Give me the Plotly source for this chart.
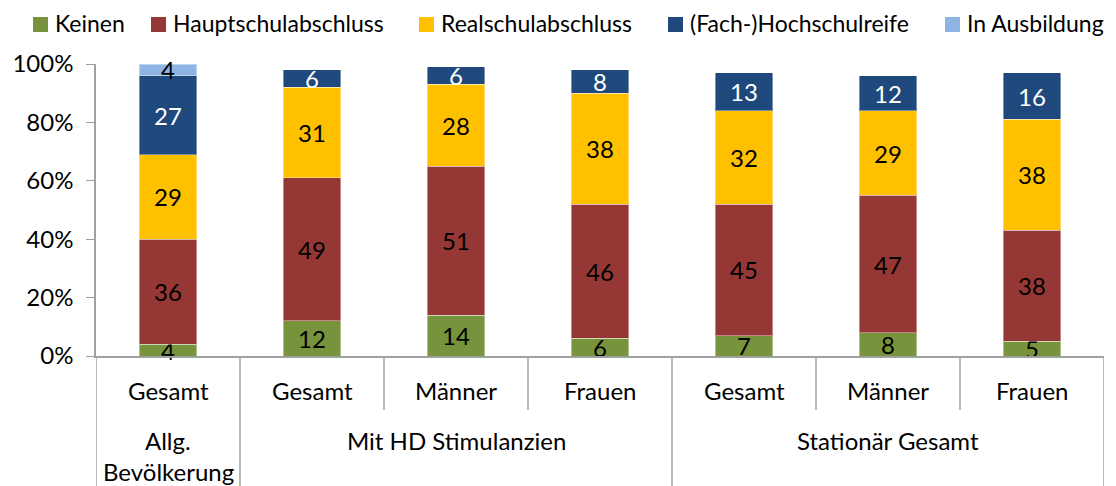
import plotly.graph_objects as go

level1 = ["Gesamt", "Gesamt", "Männer", "Frauen", "Gesamt", "Männer", "Frauen"]
groups = ["Allg.", "Mit HD Stimulanzien", "Stationär Gesamt"]
group_extra = ["Bevölkerung", "", ""]
group_spans = [(0, 0), (1, 3), (4, 6)]

series_names = ["Keinen", "Hauptschulabschluss", "Realschulabschluss", "(Fach-)Hochschulreife", "In Ausbildung"]
keinen = [4, 12, 14, 6, 7, 8, 5]
haupt = [36, 49, 51, 46, 45, 47, 38]
real = [29, 31, 28, 38, 32, 29, 38]
hoch = [27, 6, 6, 8, 13, 12, 16]
ausb = [4, None, None, None, None, None, None]
series_values = [keinen, haupt, real, hoch, ausb]
colors = ["#77933C", "#953735", "#FFC000", "#1F497D", "#8EB4E3"]
text_colors = ["black", "black", "black", "white", "black"]
y_ticks = [0, 20, 40, 60, 80, 100]

FONT = "Lato"
FS = 24
x = list(range(len(level1)))

# page has an 8px body margin; figure coordinates are page pixels minus 8
OFF = 8
W, H = 1116 - OFF, 486 - OFF
ml = 96 - OFF
mt = 64 - OFF
plot_bottom = 356 - OFF
plot_right = 1104 - OFF
mr = W - plot_right
mb = H - plot_bottom
pw = W - ml - mr
ph = H - mt - mb


def px2paper_x(px):
    # px in page pixels
    return (px - OFF - ml) / pw


def px2paper_y(py):
    return (plot_bottom - (py - OFF)) / ph


fig = go.Figure()
for name, vals, col, tc in zip(series_names, series_values, colors, text_colors):
    fig.add_trace(go.Bar(
        x=x, y=vals, name=name,
        marker=dict(color=col, line=dict(color="rgba(255,255,255,0.4)", width=1)),
        text=[("" if v is None else str(v)) for v in vals],
        textposition="inside", insidetextanchor="middle",
        constraintext="none", textangle=0,
        textfont=dict(family=FONT, size=FS, color=tc),
        width=0.4, cliponaxis=False, showlegend=False,
    ))

fig.update_layout(
    width=W, height=H, barmode="stack",
    margin=dict(l=ml, r=mr, t=mt, b=mb, autoexpand=False),
    plot_bgcolor="white", paper_bgcolor="white",
    font=dict(family=FONT, size=FS, color="black"),
    showlegend=False,
    xaxis=dict(range=[-0.5, 6.5], showticklabels=False, ticks="", showgrid=False,
               showline=True, linecolor="#A0A0A0", linewidth=1.5, zeroline=False, fixedrange=True),
    yaxis=dict(range=[0, 100], tickmode="array", tickvals=y_ticks,
               ticktext=[f"{v}%" for v in y_ticks],
               showgrid=False, showline=True, linecolor="#A0A0A0", linewidth=1.5,
               ticks="outside", ticklen=8, tickcolor="#A0A0A0", zeroline=False,
               ticklabelstandoff=8,
               tickfont=dict(family=FONT, size=FS), fixedrange=True),
)

# manual legend (page pixel positions)
legend_sq_x = [33, 151, 419, 668, 945]
sq = 15
sq_top = 17
for name, col, sx in zip(series_names, colors, legend_sq_x):
    fig.add_shape(type="rect", xref="paper", yref="paper",
                  x0=px2paper_x(sx), x1=px2paper_x(sx + sq),
                  y0=px2paper_y(sq_top), y1=px2paper_y(sq_top + sq),
                  fillcolor=col, line=dict(width=0))
    fig.add_annotation(xref="paper", yref="paper", x=px2paper_x(sx + sq + 5),
                       y=px2paper_y(sq_top + sq / 2 - 1), text=name, showarrow=False,
                       xanchor="left", yanchor="middle", font=dict(family=FONT, size=23))

# level-1 labels
for i, lab in enumerate(level1):
    fig.add_annotation(x=i, y=0, xref="x", yref="paper", text=lab, showarrow=False,
                       yshift=-34, yanchor="middle", font=dict(family=FONT, size=FS))
# group labels
for g, extra, (a, b) in zip(groups, group_extra, group_spans):
    fig.add_annotation(x=(a + b) / 2, y=0, xref="x", yref="paper", text=g, showarrow=False,
                       yshift=-84, yanchor="middle", font=dict(family=FONT, size=FS))
    if extra:
        fig.add_annotation(x=(a + b) / 2, y=0, xref="x", yref="paper", text=extra, showarrow=False,
                           yshift=-115, yanchor="middle", font=dict(family=FONT, size=FS))

# dividers
short = -54 / ph
full = -mb / ph
bounds = [-0.5] + [b + 0.5 for _, b in group_spans]
for i in range(len(level1) + 1):
    xv = i - 0.5
    y1 = full if xv in bounds else short
    fig.add_shape(type="line", xref="x", yref="paper", x0=xv, x1=xv, y0=0, y1=y1,
                  line=dict(color="#A0A0A0", width=1.5))

fig.write_html("out.html")
